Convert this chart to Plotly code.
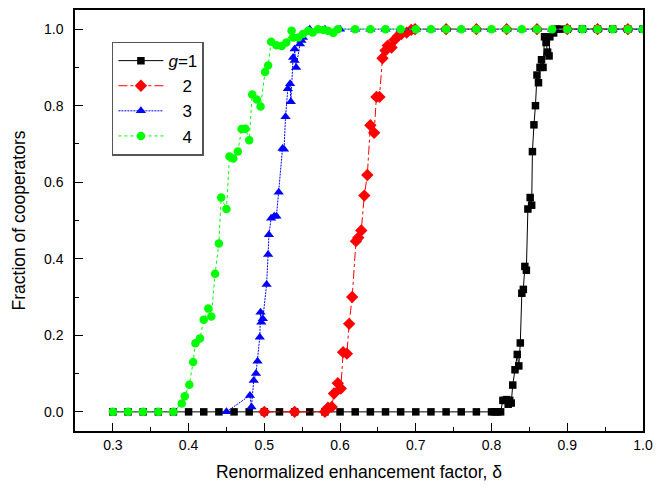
import plotly.graph_objects as go

# g = 1 (black squares, solid)
g1_x = [0.30, 0.32, 0.34, 0.36, 0.38, 0.40, 0.42, 0.44, 0.46, 0.48, 0.50, 0.52, 0.54, 0.56, 0.58,
        0.60, 0.62, 0.64, 0.66, 0.68, 0.70, 0.72, 0.74, 0.76, 0.78, 0.80, 0.804, 0.808, 0.812,
        0.815, 0.818, 0.820, 0.822, 0.824, 0.826, 0.828, 0.831, 0.834, 0.836, 0.838, 0.840, 0.842,
        0.844, 0.846, 0.848, 0.851, 0.853, 0.854, 0.856, 0.858, 0.860, 0.862, 0.864, 0.866, 0.868,
        0.870, 0.872, 0.874, 0.876, 0.877, 0.882, 0.886, 0.890, 0.90, 0.92, 0.94, 0.96, 0.98, 1.00]
g1_y = [0, 0, 0, 0, 0, 0, 0, 0, 0, 0, 0, 0, 0, 0, 0,
        0, 0, 0, 0, 0, 0, 0, 0, 0, 0, 0, 0, 0, 0,
        0.03, 0.03, 0.032, 0.02, 0.03, 0.023, 0.07, 0.11, 0.15, 0.12, 0.18, 0.31, 0.32,
        0.38, 0.37, 0.53, 0.56, 0.54, 0.68, 0.75, 0.80, 0.88, 0.86, 0.90, 0.92, 0.90,
        0.98, 0.965, 0.94, 0.93, 0.98, 0.99, 1.0, 1.0, 1, 1, 1, 1, 1, 1]

# g = 2 (red diamonds, dash-dot)
g2_x = [0.50, 0.54, 0.58, 0.584, 0.589, 0.592, 0.597, 0.601, 0.604, 0.609, 0.612, 0.616, 0.621,
        0.624, 0.628, 0.632, 0.636, 0.640, 0.645, 0.648, 0.652, 0.656, 0.660, 0.663, 0.668, 0.672,
        0.677, 0.681, 0.688, 0.694, 0.699, 0.74, 0.78, 0.82, 0.86, 0.90, 0.94, 0.98]
g2_y = [0, 0, 0, 0.011, 0.013, 0.048, 0.075, 0.061, 0.156, 0.152, 0.23, 0.30, 0.446,
        0.455, 0.474, 0.565, 0.619, 0.749, 0.729, 0.823, 0.823, 0.924, 0.944, 0.957, 0.952, 0.972,
        0.983, 0.987, 0.991, 0.998, 1.0, 1, 1, 1, 1, 1, 1, 1]

# g = 3 (blue triangles, short dash)
g3_x = [0.45, 0.481, 0.483, 0.486, 0.489, 0.491, 0.494, 0.495, 0.496, 0.498, 0.503, 0.505, 0.506,
        0.509, 0.513, 0.516, 0.519, 0.524, 0.526, 0.528, 0.531, 0.534, 0.535, 0.538, 0.540, 0.540,
        0.542, 0.547, 0.549, 0.551, 0.558, 0.56, 0.58, 0.60, 0.62, 0.64, 0.66, 0.68, 0.70, 0.72,
        0.74, 0.76, 0.78, 0.80, 0.82, 0.84, 0.86, 0.88, 0.90, 0.92, 0.94, 0.96, 0.98, 1.00]
g3_y = [0.0, 0.043, 0.013, 0.082, 0.10, 0.132, 0.195, 0.26, 0.234, 0.243, 0.333, 0.411, 0.463,
        0.506, 0.511, 0.511, 0.574, 0.688, 0.686, 0.771, 0.844, 0.857, 0.81, 0.926, 0.918, 0.948,
        0.90, 0.961, 0.97, 0.978, 0.996, 1.0, 1, 1, 1, 1, 1, 1, 1, 1,
        1, 1, 1, 1, 1, 1, 1, 1, 1, 1, 1, 1, 1, 1]

# g = 4 (green circles, dotted)
g4_x = [0.30, 0.32, 0.34, 0.36, 0.38, 0.391, 0.395, 0.401, 0.406, 0.409, 0.415, 0.420, 0.426,
        0.430, 0.435, 0.440, 0.443, 0.450, 0.454, 0.459, 0.465, 0.470, 0.475, 0.480, 0.484, 0.490,
        0.495, 0.501, 0.505, 0.509, 0.516, 0.523, 0.529, 0.536, 0.538, 0.545, 0.551, 0.558, 0.564,
        0.571, 0.578, 0.584, 0.591, 0.597, 0.62, 0.64, 0.66, 0.68, 0.70, 0.72, 0.74, 0.76, 0.78,
        0.80, 0.82, 0.84, 0.86, 0.88, 0.90, 0.92, 0.94, 0.96, 0.98, 1.00]
g4_y = [0, 0, 0, 0, 0, 0.022, 0.041, 0.071, 0.13, 0.179, 0.192, 0.241, 0.27,
        0.249, 0.361, 0.44, 0.56, 0.53, 0.667, 0.662, 0.68, 0.739, 0.74, 0.71, 0.829, 0.816,
        0.798, 0.888, 0.905, 0.967, 0.958, 0.956, 0.965, 0.996, 0.978, 0.978, 0.987, 0.996, 0.991,
        1.0, 0.998, 0.996, 0.99, 1.0, 1, 1, 1, 1, 1, 1, 1, 1, 1,
        1, 1, 1, 1, 1, 1, 1, 1, 1, 1, 1]

names = ["<i>g</i>=1", "\u00a0\u00a0 2", "\u00a0\u00a0 3", "\u00a0\u00a0 4"]
colors = ["#000000", "#FF0000", "#0000FF", "#00FF00"]
symbols = ["square", "diamond", "triangle-up", "circle"]
dashes = ["solid", "dashdot", "2px,1px", "dot"]
sizes = [7.5, 9.5, 9, 8.5]
xs = [g1_x, g2_x, g3_x, g4_x]
ys = [g1_y, g2_y, g3_y, g4_y]

x_ticks = [0.3, 0.4, 0.5, 0.6, 0.7, 0.8, 0.9, 1.0]
y_ticks = [0.0, 0.2, 0.4, 0.6, 0.8, 1.0]

FONT = "Liberation Sans, Arial"

fig = go.Figure()
for i in range(4):
    fig.add_trace(go.Scatter(
        x=xs[i], y=ys[i], mode="lines+markers", name=names[i],
        line=dict(color=colors[i], width=1, dash=dashes[i]),
        marker=dict(symbol=symbols[i], size=sizes[i], color=colors[i], line=dict(width=0)),
    ))

axis_common = dict(
    showline=True, linecolor="black", linewidth=1.5, mirror=True,
    ticks="inside", ticklen=8, tickwidth=1.2, tickcolor="black",
    showgrid=False, zeroline=False,
    tickfont=dict(family=FONT, size=14, color="black"),
)

fig.update_xaxes(
    range=[0.25, 1.0], tickvals=x_ticks, tickformat=".1f",
    minor=dict(ticks="inside", ticklen=4, tickwidth=1, tickcolor="black", dtick=0.05, tick0=0.25),
    title=dict(text="Renormalized enhancement factor, δ",
               font=dict(family=FONT, size=17.5, color="black"), standoff=14),
    **axis_common,
)
fig.update_yaxes(
    range=[-0.05, 1.05], tickvals=y_ticks, tickformat=".1f",
    minor=dict(ticks="inside", ticklen=4, tickwidth=1, tickcolor="black", dtick=0.1, tick0=0.0),
    title=dict(text="Fraction of cooperators",
               font=dict(family=FONT, size=17.5, color="black"), standoff=14),
    ticklabelstandoff=7,
    **axis_common,
)

fig.update_layout(
    width=669, height=490,
    margin=dict(l=75, r=26, t=8, b=59),
    paper_bgcolor="white", plot_bgcolor="white",
    font=dict(family=FONT, color="black"),
    showlegend=True,
    legend=dict(
        x=0.065, y=0.925, xanchor="left", yanchor="top",
        bgcolor="white", bordercolor="#555555", borderwidth=1.5,
        font=dict(family=FONT, size=17, color="black"),
        itemwidth=45, tracegroupgap=0,
    ),
)

fig.write_html("out.html", config={"displayModeBar": False},
               post_script="document.body.style.margin='0';document.body.style.overflow='hidden';")
